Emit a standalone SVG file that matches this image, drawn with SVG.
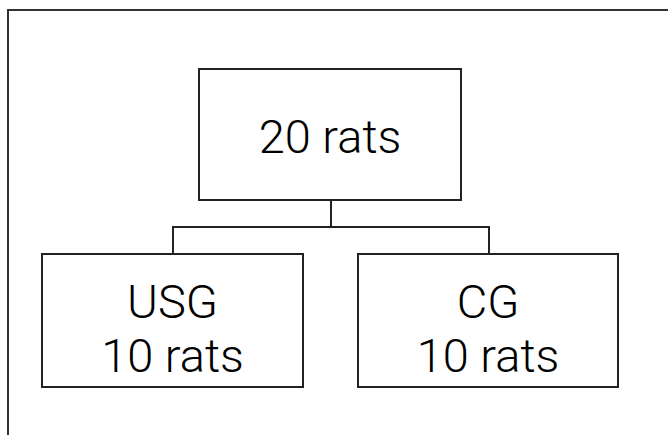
<svg xmlns="http://www.w3.org/2000/svg" width="668" height="435" viewBox="0 0 668 435">
<style>
.box{fill:#fff;stroke:#222;stroke-width:2}
.con{fill:none;stroke:#222;stroke-width:2}
.lbl{font-family:Roboto,"Liberation Sans",Arial,sans-serif;font-weight:300;font-size:47px;fill:#000;text-anchor:middle}
</style>
<rect width="668" height="435" fill="#fff"/>
<path d="M8,435 V10 H668" fill="none" stroke="#333" stroke-width="2"/>
<g id="connectors">
<path class="con" d="M331,200 V227 M173,254 V227 H489 V254"/>
</g>
<g id="n-root">
<rect class="box" x="199" y="69" width="262" height="131"/>
<text class="lbl" x="330" y="153">20 rats</text>
</g>
<g id="n-usg">
<rect class="box" x="42" y="254" width="261" height="133"/>
<text class="lbl" x="172.5" y="318">USG</text>
<text class="lbl" x="172.5" y="372">10 rats</text>
</g>
<g id="n-cg">
<rect class="box" x="358" y="254" width="260" height="133"/>
<text class="lbl" x="488" y="318">CG</text>
<text class="lbl" x="488" y="372">10 rats</text>
</g>
</svg>
